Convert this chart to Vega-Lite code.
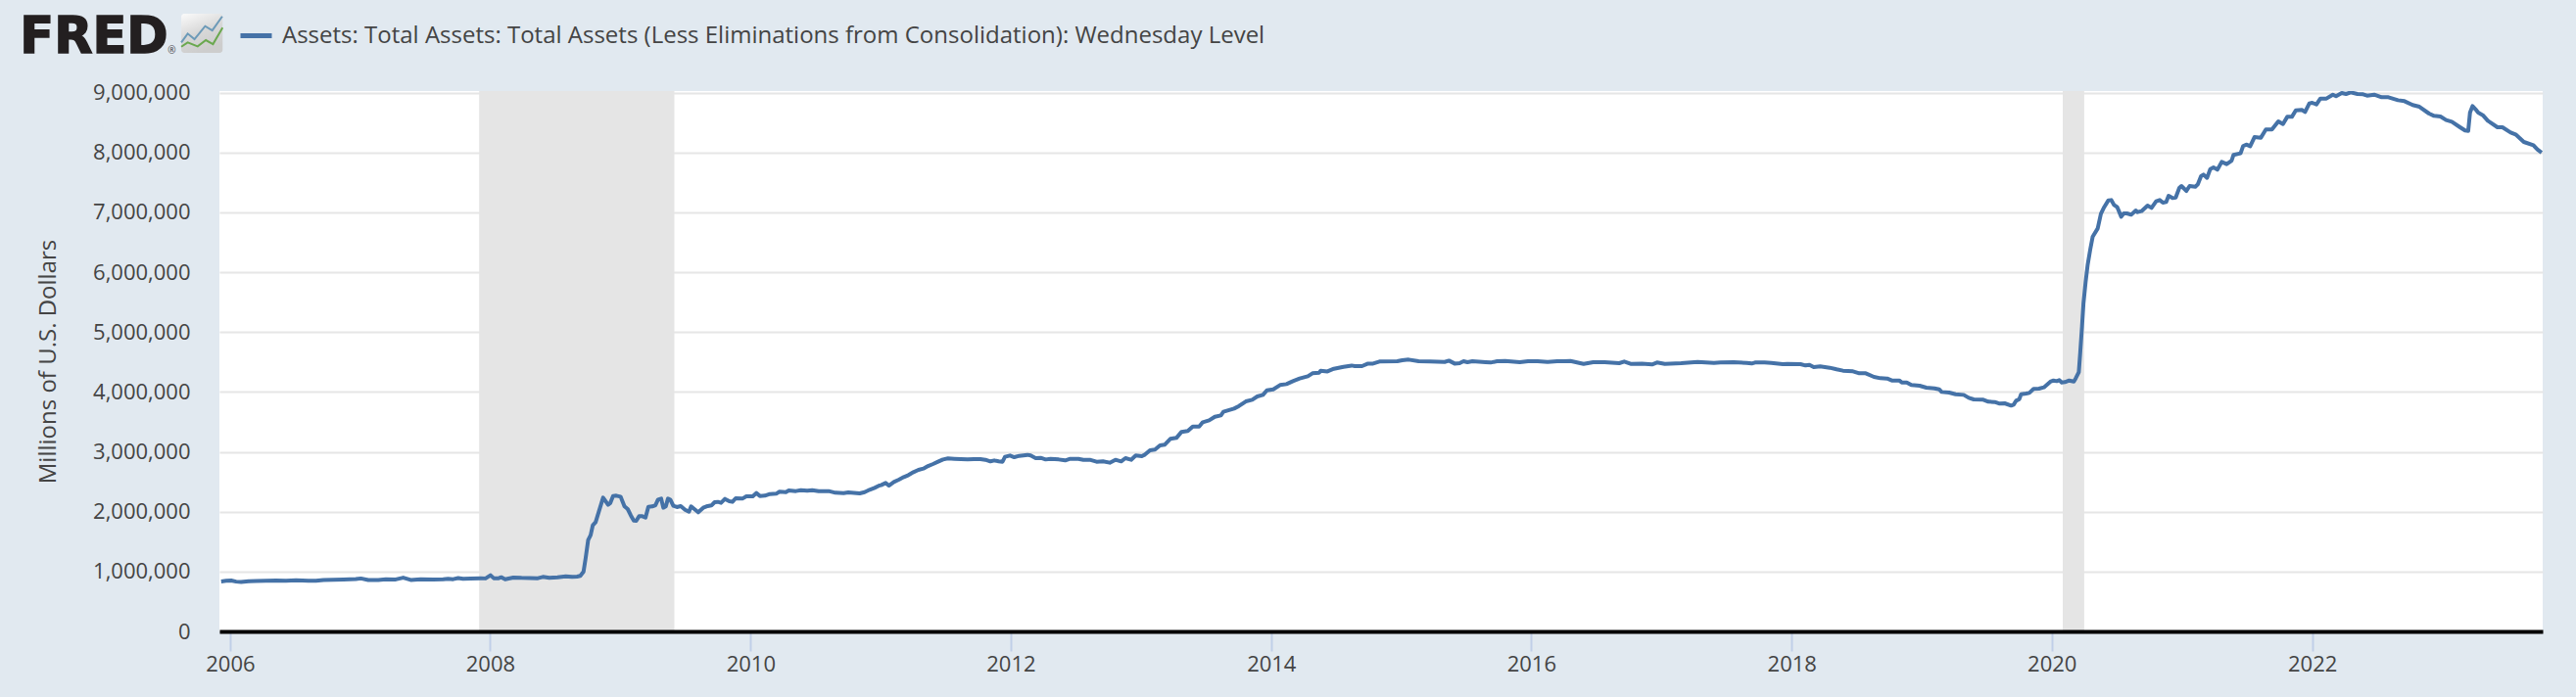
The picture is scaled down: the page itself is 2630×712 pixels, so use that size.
{"$schema":"https://vega.github.io/schema/vega-lite/v6.json","width":2372,"height":552,"autosize":{"type":"none"},"padding":{"left":224,"top":93,"right":34,"bottom":67},"background":"#e1e9f0","view":{"fill":"#ffffff","stroke":null},
"encoding":{"x":{"field":"date","type":"temporal","title":null,"scale":{"domain":["2005-12-02","2023-10-10"]},"axis":{"zindex":1,"grid":false,"tickCount":{"interval":"year","step":2},"format":"%Y","domainColor":"#000000","domainWidth":4,"tickColor":"#c0cfe8","tickWidth":2,"tickSize":20,"labelFont":"Open Sans","labelFontSize":22,"labelColor":"#444444","labelPadding":3,"labelFlush":false,"labelOverlap":false}},
"y":{"field":"value","type":"quantitative","scale":{"domain":[0,9026000],"nice":false},"axis":{"zindex":0,"values":[0,1000000,2000000,3000000,4000000,5000000,6000000,7000000,8000000,9000000],"format":",d","domain":false,"ticks":false,"grid":true,"gridColor":"#e6e6e6","gridWidth":2,"labelFont":"Open Sans","labelFontSize":22,"labelColor":"#444444","labelPadding":30,"title":"Millions of U.S. Dollars","titleFont":"Open Sans","titleFontSize":24,"titleFontWeight":"normal","titleColor":"#444444","titlePadding":33}}},
"layer":[
{"data":{"values":[{"name":"Recession 2007-2009","date":"2007-12-01","end":"2009-06-01","value":0,"top":9026000},{"name":"Recession 2020","date":"2020-02-01","end":"2020-04-01","value":0,"top":9026000}]},"mark":{"type":"rect","color":"#e5e5e5"},"encoding":{"x2":{"field":"end"},"y2":{"field":"top"}}},
{"data":{"values":[
{"date":"2005-12-07","value":835000},{"date":"2005-12-21","value":845000},{"date":"2006-01-04","value":850000},{"date":"2006-01-18","value":832000},{"date":"2006-02-01","value":825000},{"date":"2006-02-22","value":838000},{"date":"2006-03-15","value":842000},{"date":"2006-04-12","value":845000},{"date":"2006-05-10","value":851000},{"date":"2006-06-07","value":848000},{"date":"2006-07-05","value":853000},{"date":"2006-08-09","value":848000},{"date":"2006-08-30","value":845000},{"date":"2006-09-20","value":858000},{"date":"2006-10-18","value":862000},{"date":"2006-11-15","value":868000},{"date":"2006-12-20","value":875000},
{"date":"2007-01-03","value":885000},{"date":"2007-01-24","value":858000},{"date":"2007-02-21","value":860000},{"date":"2007-03-14","value":872000},{"date":"2007-04-11","value":868000},{"date":"2007-05-02","value":898000},{"date":"2007-05-23","value":860000},{"date":"2007-06-20","value":870000},{"date":"2007-07-25","value":868000},{"date":"2007-08-22","value":870000},{"date":"2007-09-05","value":878000},{"date":"2007-09-19","value":872000},{"date":"2007-10-03","value":892000},{"date":"2007-10-17","value":878000},{"date":"2007-11-07","value":882000},{"date":"2007-12-05","value":888000},{"date":"2007-12-19","value":885000},
{"date":"2008-01-02","value":938000},{"date":"2008-01-11","value":889000},{"date":"2008-01-25","value":889000},{"date":"2008-02-01","value":905000},{"date":"2008-02-12","value":872000},{"date":"2008-03-06","value":900000},{"date":"2008-03-29","value":894000},{"date":"2008-05-14","value":889000},{"date":"2008-05-28","value":910000},{"date":"2008-06-15","value":894000},{"date":"2008-07-08","value":905000},{"date":"2008-07-31","value":921000},{"date":"2008-08-18","value":910000},{"date":"2008-09-01","value":916000},{"date":"2008-09-10","value":927000},{"date":"2008-09-19","value":998000},{"date":"2008-09-25","value":1226000},{"date":"2008-10-02","value":1526000},{"date":"2008-10-09","value":1608000},{"date":"2008-10-15","value":1772000},{"date":"2008-10-23","value":1826000},{"date":"2008-11-01","value":2000000},{"date":"2008-11-13","value":2235000},{"date":"2008-11-27","value":2115000},{"date":"2008-12-03","value":2142000},{"date":"2008-12-11","value":2262000},{"date":"2008-12-20","value":2267000},
{"date":"2009-01-01","value":2251000},{"date":"2009-01-12","value":2088000},{"date":"2009-01-21","value":2044000},{"date":"2009-01-30","value":1935000},{"date":"2009-02-07","value":1853000},{"date":"2009-02-14","value":1848000},{"date":"2009-02-22","value":1924000},{"date":"2009-03-03","value":1924000},{"date":"2009-03-12","value":1902000},{"date":"2009-03-20","value":2082000},{"date":"2009-03-31","value":2088000},{"date":"2009-04-09","value":2109000},{"date":"2009-04-16","value":2202000},{"date":"2009-04-25","value":2218000},{"date":"2009-05-01","value":2066000},{"date":"2009-05-08","value":2088000},{"date":"2009-05-14","value":2218000},{"date":"2009-05-21","value":2197000},{"date":"2009-05-29","value":2098000},{"date":"2009-06-08","value":2077000},{"date":"2009-06-19","value":2093000},{"date":"2009-07-01","value":2033000},{"date":"2009-07-12","value":2000000},{"date":"2009-07-18","value":2088000},{"date":"2009-07-27","value":2044000},{"date":"2009-08-07","value":1990000},{"date":"2009-08-21","value":2066000},{"date":"2009-08-30","value":2088000},{"date":"2009-09-13","value":2104000},{"date":"2009-09-22","value":2158000},{"date":"2009-10-01","value":2164000},{"date":"2009-10-10","value":2148000},{"date":"2009-10-21","value":2213000},{"date":"2009-11-02","value":2175000},{"date":"2009-11-11","value":2164000},{"date":"2009-11-20","value":2224000},{"date":"2009-12-09","value":2218000},{"date":"2009-12-20","value":2256000},
{"date":"2010-01-07","value":2256000},{"date":"2010-01-17","value":2311000},{"date":"2010-01-27","value":2262000},{"date":"2010-02-10","value":2267000},{"date":"2010-02-24","value":2295000},{"date":"2010-03-14","value":2300000},{"date":"2010-03-23","value":2333000},{"date":"2010-04-10","value":2327000},{"date":"2010-04-18","value":2355000},{"date":"2010-05-08","value":2344000},{"date":"2010-05-22","value":2360000},{"date":"2010-06-09","value":2349000},{"date":"2010-06-23","value":2360000},{"date":"2010-07-11","value":2344000},{"date":"2010-08-08","value":2344000},{"date":"2010-08-27","value":2316000},{"date":"2010-09-19","value":2311000},{"date":"2010-10-02","value":2322000},{"date":"2010-11-03","value":2306000},{"date":"2010-11-17","value":2327000},{"date":"2010-12-01","value":2366000},{"date":"2010-12-15","value":2398000},{"date":"2010-12-28","value":2436000},
{"date":"2011-01-02","value":2442000},{"date":"2011-01-15","value":2480000},{"date":"2011-01-24","value":2436000},{"date":"2011-02-07","value":2496000},{"date":"2011-02-21","value":2534000},{"date":"2011-03-07","value":2578000},{"date":"2011-03-20","value":2611000},{"date":"2011-04-03","value":2660000},{"date":"2011-04-17","value":2698000},{"date":"2011-05-01","value":2720000},{"date":"2011-05-14","value":2763000},{"date":"2011-05-28","value":2796000},{"date":"2011-06-11","value":2834000},{"date":"2011-06-25","value":2872000},{"date":"2011-07-09","value":2889000},{"date":"2011-07-27","value":2883000},{"date":"2011-08-14","value":2878000},{"date":"2011-09-02","value":2872000},{"date":"2011-09-20","value":2878000},{"date":"2011-10-08","value":2878000},{"date":"2011-10-22","value":2867000},{"date":"2011-11-05","value":2840000},{"date":"2011-11-16","value":2856000},{"date":"2011-11-28","value":2840000},{"date":"2011-12-09","value":2834000},{"date":"2011-12-16","value":2916000},{"date":"2011-12-30","value":2938000},
{"date":"2012-01-11","value":2910000},{"date":"2012-01-25","value":2932000},{"date":"2012-02-17","value":2949000},{"date":"2012-02-26","value":2938000},{"date":"2012-03-11","value":2894000},{"date":"2012-03-25","value":2900000},{"date":"2012-04-08","value":2872000},{"date":"2012-04-22","value":2883000},{"date":"2012-05-15","value":2872000},{"date":"2012-06-02","value":2856000},{"date":"2012-06-16","value":2883000},{"date":"2012-07-09","value":2883000},{"date":"2012-07-23","value":2867000},{"date":"2012-08-10","value":2867000},{"date":"2012-08-29","value":2834000},{"date":"2012-09-16","value":2840000},{"date":"2012-10-05","value":2818000},{"date":"2012-10-21","value":2867000},{"date":"2012-11-06","value":2840000},{"date":"2012-11-18","value":2894000},{"date":"2012-12-04","value":2867000},{"date":"2012-12-17","value":2938000},
{"date":"2013-01-03","value":2927000},{"date":"2013-01-12","value":2954000},{"date":"2013-01-26","value":3025000},{"date":"2013-02-09","value":3036000},{"date":"2013-02-23","value":3107000},{"date":"2013-03-08","value":3118000},{"date":"2013-03-24","value":3216000},{"date":"2013-04-10","value":3232000},{"date":"2013-04-24","value":3330000},{"date":"2013-05-12","value":3347000},{"date":"2013-05-26","value":3423000},{"date":"2013-06-13","value":3423000},{"date":"2013-06-23","value":3494000},{"date":"2013-07-11","value":3526000},{"date":"2013-07-27","value":3586000},{"date":"2013-08-13","value":3608000},{"date":"2013-08-20","value":3668000},{"date":"2013-09-19","value":3722000},{"date":"2013-10-03","value":3766000},{"date":"2013-10-22","value":3842000},{"date":"2013-11-09","value":3869000},{"date":"2013-11-23","value":3924000},{"date":"2013-12-09","value":3951000},{"date":"2013-12-20","value":4027000},
{"date":"2014-01-07","value":4044000},{"date":"2014-01-26","value":4115000},{"date":"2014-02-13","value":4131000},{"date":"2014-03-03","value":4180000},{"date":"2014-03-22","value":4224000},{"date":"2014-04-14","value":4262000},{"date":"2014-04-27","value":4311000},{"date":"2014-05-16","value":4322000},{"date":"2014-05-20","value":4354000},{"date":"2014-06-08","value":4343000},{"date":"2014-06-26","value":4387000},{"date":"2014-07-23","value":4420000},{"date":"2014-08-15","value":4441000},{"date":"2014-08-24","value":4431000},{"date":"2014-09-13","value":4431000},{"date":"2014-09-30","value":4474000},{"date":"2014-10-14","value":4474000},{"date":"2014-11-01","value":4507000},{"date":"2014-12-21","value":4512000},
{"date":"2015-01-04","value":4529000},{"date":"2015-01-22","value":4540000},{"date":"2015-02-19","value":4512000},{"date":"2015-03-23","value":4507000},{"date":"2015-05-03","value":4501000},{"date":"2015-05-15","value":4523000},{"date":"2015-05-31","value":4474000},{"date":"2015-06-14","value":4480000},{"date":"2015-06-25","value":4512000},{"date":"2015-07-06","value":4496000},{"date":"2015-07-20","value":4512000},{"date":"2015-08-26","value":4496000},{"date":"2015-09-09","value":4491000},{"date":"2015-09-27","value":4512000},{"date":"2015-10-20","value":4518000},{"date":"2015-11-30","value":4496000},{"date":"2015-12-23","value":4512000},
{"date":"2016-01-19","value":4513000},{"date":"2016-02-16","value":4502000},{"date":"2016-03-14","value":4513000},{"date":"2016-04-02","value":4513000},{"date":"2016-04-20","value":4518000},{"date":"2016-05-27","value":4469000},{"date":"2016-06-23","value":4496000},{"date":"2016-07-25","value":4496000},{"date":"2016-09-04","value":4480000},{"date":"2016-09-18","value":4507000},{"date":"2016-10-06","value":4469000},{"date":"2016-11-07","value":4474000},{"date":"2016-12-05","value":4458000},{"date":"2016-12-19","value":4491000},
{"date":"2017-01-10","value":4469000},{"date":"2017-02-25","value":4480000},{"date":"2017-04-12","value":4502000},{"date":"2017-05-28","value":4486000},{"date":"2017-06-15","value":4491000},{"date":"2017-07-22","value":4497000},{"date":"2017-08-28","value":4486000},{"date":"2017-09-11","value":4475000},{"date":"2017-09-20","value":4491000},{"date":"2017-10-17","value":4491000},{"date":"2017-11-05","value":4486000},{"date":"2017-12-07","value":4464000},{"date":"2017-12-20","value":4469000},
{"date":"2018-01-26","value":4464000},{"date":"2018-02-09","value":4442000},{"date":"2018-02-20","value":4453000},{"date":"2018-03-04","value":4415000},{"date":"2018-03-22","value":4426000},{"date":"2018-04-18","value":4404000},{"date":"2018-05-07","value":4377000},{"date":"2018-05-25","value":4355000},{"date":"2018-06-22","value":4344000},{"date":"2018-07-10","value":4311000},{"date":"2018-07-28","value":4311000},{"date":"2018-08-20","value":4251000},{"date":"2018-09-07","value":4229000},{"date":"2018-09-26","value":4224000},{"date":"2018-10-09","value":4191000},{"date":"2018-10-30","value":4191000},{"date":"2018-11-06","value":4159000},{"date":"2018-11-20","value":4159000},{"date":"2018-12-03","value":4115000},{"date":"2018-12-26","value":4104000},
{"date":"2019-01-14","value":4071000},{"date":"2019-02-06","value":4060000},{"date":"2019-02-19","value":4044000},{"date":"2019-02-26","value":4000000},{"date":"2019-03-19","value":3990000},{"date":"2019-04-06","value":3962000},{"date":"2019-04-29","value":3951000},{"date":"2019-05-13","value":3902000},{"date":"2019-05-27","value":3875000},{"date":"2019-06-23","value":3870000},{"date":"2019-07-07","value":3837000},{"date":"2019-07-25","value":3832000},{"date":"2019-08-08","value":3804000},{"date":"2019-08-22","value":3810000},{"date":"2019-09-09","value":3772000},{"date":"2019-09-16","value":3788000},{"date":"2019-09-23","value":3853000},{"date":"2019-10-02","value":3881000},{"date":"2019-10-07","value":3962000},{"date":"2019-10-21","value":3973000},{"date":"2019-10-30","value":3984000},{"date":"2019-11-11","value":4050000},{"date":"2019-11-26","value":4055000},{"date":"2019-12-10","value":4077000},{"date":"2019-12-28","value":4170000},
{"date":"2020-01-06","value":4191000},{"date":"2020-01-15","value":4180000},{"date":"2020-01-22","value":4197000},{"date":"2020-01-29","value":4159000},{"date":"2020-02-07","value":4164000},{"date":"2020-02-19","value":4191000},{"date":"2020-03-03","value":4175000},{"date":"2020-03-08","value":4224000},{"date":"2020-03-17","value":4333000},{"date":"2020-03-21","value":4660000},{"date":"2020-03-26","value":5096000},{"date":"2020-03-30","value":5477000},{"date":"2020-04-05","value":5832000},{"date":"2020-04-11","value":6131000},{"date":"2020-04-18","value":6377000},{"date":"2020-04-25","value":6595000},{"date":"2020-05-09","value":6731000},{"date":"2020-05-18","value":6976000},{"date":"2020-05-27","value":7085000},{"date":"2020-06-08","value":7200000},{"date":"2020-06-16","value":7205000},{"date":"2020-06-24","value":7123000},{"date":"2020-07-03","value":7085000},{"date":"2020-07-14","value":6927000},{"date":"2020-07-21","value":6982000},{"date":"2020-07-30","value":6982000},{"date":"2020-08-11","value":6960000},{"date":"2020-08-24","value":7031000},{"date":"2020-08-29","value":7004000},{"date":"2020-09-09","value":7020000},{"date":"2020-09-26","value":7112000},{"date":"2020-10-07","value":7074000},{"date":"2020-10-20","value":7183000},{"date":"2020-10-30","value":7205000},{"date":"2020-11-08","value":7161000},{"date":"2020-11-17","value":7172000},{"date":"2020-11-24","value":7276000},{"date":"2020-12-05","value":7238000},{"date":"2020-12-14","value":7249000},{"date":"2020-12-24","value":7407000},{"date":"2020-12-30","value":7440000},
{"date":"2021-01-13","value":7358000},{"date":"2021-01-22","value":7440000},{"date":"2021-02-07","value":7429000},{"date":"2021-02-14","value":7467000},{"date":"2021-02-23","value":7603000},{"date":"2021-03-02","value":7630000},{"date":"2021-03-12","value":7576000},{"date":"2021-03-21","value":7723000},{"date":"2021-03-30","value":7750000},{"date":"2021-04-10","value":7712000},{"date":"2021-04-22","value":7843000},{"date":"2021-05-06","value":7805000},{"date":"2021-05-20","value":7865000},{"date":"2021-05-25","value":7958000},{"date":"2021-06-14","value":7985000},{"date":"2021-06-21","value":8105000},{"date":"2021-06-30","value":8132000},{"date":"2021-07-11","value":8105000},{"date":"2021-07-23","value":8257000},{"date":"2021-08-10","value":8247000},{"date":"2021-08-24","value":8383000},{"date":"2021-09-10","value":8383000},{"date":"2021-09-28","value":8519000},{"date":"2021-10-11","value":8475000},{"date":"2021-10-23","value":8595000},{"date":"2021-11-05","value":8595000},{"date":"2021-11-16","value":8704000},{"date":"2021-12-03","value":8710000},{"date":"2021-12-12","value":8677000},{"date":"2021-12-24","value":8819000},
{"date":"2022-01-01","value":8830000},{"date":"2022-01-13","value":8802000},{"date":"2022-01-24","value":8901000},{"date":"2022-02-10","value":8901000},{"date":"2022-02-28","value":8966000},{"date":"2022-03-09","value":8939000},{"date":"2022-03-25","value":8993000},{"date":"2022-04-06","value":8977000},{"date":"2022-04-19","value":9004000},{"date":"2022-05-08","value":8977000},{"date":"2022-05-24","value":8971000},{"date":"2022-06-04","value":8950000},{"date":"2022-06-24","value":8966000},{"date":"2022-07-15","value":8922000},{"date":"2022-08-03","value":8922000},{"date":"2022-08-30","value":8873000},{"date":"2022-09-17","value":8857000},{"date":"2022-10-10","value":8792000},{"date":"2022-10-29","value":8764000},{"date":"2022-11-25","value":8650000},{"date":"2022-12-09","value":8612000},{"date":"2022-12-27","value":8601000},
{"date":"2023-01-12","value":8541000},{"date":"2023-01-28","value":8514000},{"date":"2023-02-20","value":8421000},{"date":"2023-03-06","value":8367000},{"date":"2023-03-15","value":8361000},{"date":"2023-03-20","value":8666000},{"date":"2023-03-27","value":8775000},{"date":"2023-04-07","value":8704000},{"date":"2023-04-12","value":8666000},{"date":"2023-04-25","value":8623000},{"date":"2023-05-09","value":8530000},{"date":"2023-06-05","value":8421000},{"date":"2023-06-19","value":8421000},{"date":"2023-07-12","value":8334000},{"date":"2023-07-26","value":8301000},{"date":"2023-08-18","value":8176000},{"date":"2023-09-14","value":8121000},{"date":"2023-09-25","value":8050000},{"date":"2023-10-07","value":7996000}
]},"mark":{"type":"line","strokeWidth":4,"interpolate":"linear","strokeJoin":"round","clip":true},"encoding":{"color":{"datum":"Assets: Total Assets: Total Assets (Less Eliminations from Consolidation): Wednesday Level","scale":{"range":["#4572a7"]},"legend":{"orient":"none","legendX":19,"legendY":-75,"title":null,"symbolType":"stroke","symbolSize":1024,"symbolStrokeWidth":5,"labelFont":"Open Sans","labelFontSize":24,"labelColor":"#444444","labelLimit":1500,"labelOffset":8,"padding":0}}}},
{"data":{"values":[{"date":"2005-08-17","end":"2005-12-11","value":9663000,"top":10317000}]},"mark":{"type":"rect","cornerRadius":3,"clip":false,"color":{"gradient":"linear","x1":0,"y1":0,"x2":0.4,"y2":1,"stops":[{"offset":0,"color":"#fbfbfb"},{"offset":0.55,"color":"#d8d8d8"},{"offset":1,"color":"#cdcdcd"}]}},"encoding":{"x2":{"field":"end"},"y2":{"field":"top"}}},
{"data":{"values":[{"date":"2005-08-17","value":9838000},{"date":"2005-09-04","value":9985000},{"date":"2005-09-23","value":9892000},{"date":"2005-10-23","value":10110000},{"date":"2005-11-12","value":10039000},{"date":"2005-12-10","value":10273000}]},"mark":{"type":"line","stroke":"#6c9ab8","strokeWidth":2,"clip":false}},
{"data":{"values":[{"date":"2005-08-17","value":9766000},{"date":"2005-09-04","value":9838000},{"date":"2005-10-02","value":9773000},{"date":"2005-10-25","value":9876000},{"date":"2005-11-14","value":9810000},{"date":"2005-12-11","value":10083000}]},"mark":{"type":"line","stroke":"#6aa84f","strokeWidth":2,"clip":false}},
{"data":{"values":[{"date":"2004-05-21","value":9671000,"label":"FRED"}]},"mark":{"type":"text","align":"left","baseline":"alphabetic","font":"DejaVu Sans","fontWeight":"bold","fontSize":51,"color":"#231f20","stroke":"#231f20","strokeWidth":1.5,"clip":false},"encoding":{"text":{"field":"label"}}},
{"data":{"values":[{"date":"2005-07-10","value":9647000,"label":"®"}]},"mark":{"type":"text","align":"left","baseline":"alphabetic","font":"Open Sans","fontSize":10,"color":"#444444","clip":false},"encoding":{"text":{"field":"label"}}}
]}
